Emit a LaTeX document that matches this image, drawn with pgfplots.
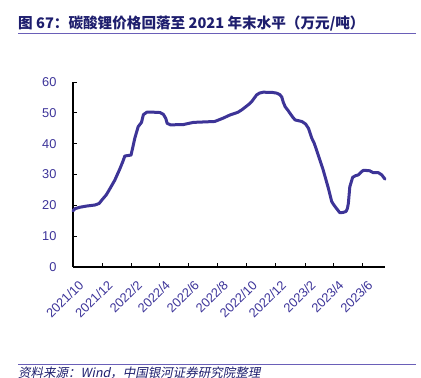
\documentclass[border=0pt]{standalone}
\usepackage{fontspec}
\setmainfont{Liberation Sans}
\newfontfamily\cjk{Noto Sans CJK SC}
\newfontfamily\cjkit[FakeSlant=0.2]{Noto Sans CJK SC}
\usepackage{pgfplots}
\pgfplotsset{compat=1.18}
\definecolor{lineblue}{HTML}{3D3497}
\definecolor{ticklab}{HTML}{3C3399}
\definecolor{navy}{HTML}{1E1E6E}
\definecolor{rulec}{HTML}{6A5FB8}
\pgfplotstableread{
d v
0 18.2
4 18.9
15 19.4
30 19.8
46 20.1
55 20.6
60 21.6
70 23.4
78 25.5
88 28.2
99 32.0
105 34.3
109 36.0
122 36.3
126 39.0
130 41.8
137 45.5
144 46.9
148 49.4
155 50.2
170 50.2
183 50.1
190 49.5
195 48.2
198 46.6
205 46.1
232 46.2
253 46.9
298 47.2
308 47.8
316 48.3
330 49.3
347 50.2
355 51.0
361 51.7
370 52.8
376 53.7
386 55.8
392 56.4
400 56.7
420 56.6
428 56.4
435 55.9
439 55.1
442 53.5
446 52.0
452 50.8
456 49.9
462 48.6
467 47.7
481 47.2
489 46.4
495 45.0
502 41.8
507 40.2
512 38.0
519 34.7
525 32.0
530 29.3
537 25.5
544 21.2
549 20.0
554 19.0
561 17.6
568 17.7
574 18.0
577 19.0
579 20.7
582 26.0
588 29.1
594 29.6
600 29.9
606 30.8
610 31.3
617 31.3
624 31.2
631 30.6
642 30.6
649 29.9
656 28.5
}\lithium
\begin{document}
\begin{tikzpicture}[x=1pt,y=1pt]
\useasboundingbox (0,0) rectangle (421,378);
\fill[white] (0,0) rectangle (421,378);
\node[anchor=west, inner sep=0, text=navy, font=\cjk\bfseries\fontsize{14.6}{16}\selectfont] at (18,354) {图 67：碳酸锂价格回落至 2021 年末水平（万元/吨）};
\draw[rulec, line width=0.8pt] (18,344.5) -- (416,344.5);
\draw[rulec, line width=0.8pt] (18,14) -- (416,14);
\node[anchor=west, inner sep=0, text=navy, font=\cjkit\fontsize{12.5}{14}\selectfont] at (18,5) {资料来源：Wind，中国银河证券研究院整理};
\begin{axis}[at={(73pt,111pt)}, anchor=south west, scale only axis,
  width=312pt, height=185pt,
  xmin=0, xmax=656, ymin=0, ymax=60,
  axis lines=left,
  axis line style={-, line width=1.2pt, black},
  ytick={0,10,...,60},
  xtick={0,61,123,182,243,304,365,426,488,547,608},
  xticklabels={2021/10,2021/12,2022/2,2022/4,2022/6,2022/8,2022/10,2022/12,2023/2,2023/4,2023/6},
  tick style={black, line width=0.8pt},
  tick align=inside,
  major tick length=4pt,
  ticklabel style={text=ticklab, font=\fontsize{12.8}{14}\selectfont},
  /pgf/number format/assume math mode=true,
  yticklabel style={xshift=-13pt},
  xticklabel style={rotate=45, anchor=east, yshift=-17pt, xshift=-2pt},
  clip=false]
\addplot[lineblue, line width=3pt, line join=round, line cap=round] table[x=d, y=v] {\lithium};
\end{axis}
\end{tikzpicture}
\end{document}
